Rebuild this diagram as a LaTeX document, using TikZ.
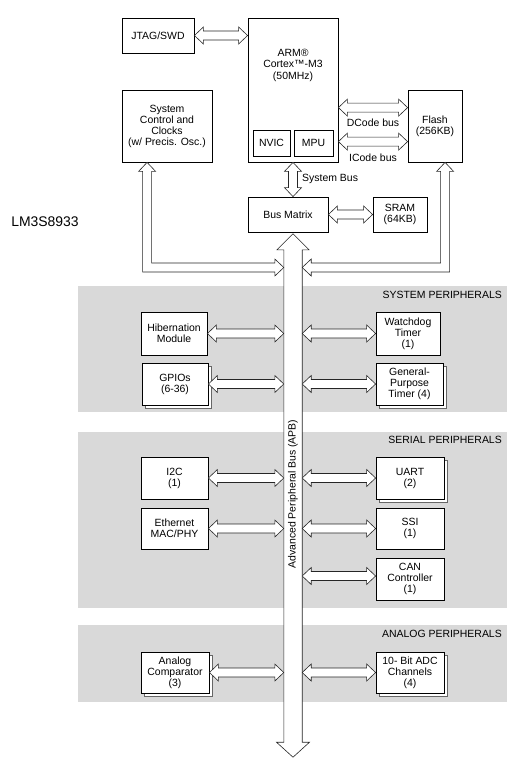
\documentclass[tikz,border=0pt]{standalone}
\usepackage{fontspec}
\setmainfont{Liberation Sans}
\usetikzlibrary{calc}
\newcommand\fs{\fontsize{10.5}{11}\selectfont}
\tikzset{
 box/.style={draw=black, line width=0.8bp, fill=white, align=center, inner sep=0pt, font=\fs},
 shbox/.style={draw=black!60, line width=0.6bp, fill=white},
 barrow/.style={draw=black!85, line width=0.6bp, fill=white, line join=miter},
 band/.style={fill=black!15},
 lbl/.style={font=\fs, inner sep=0pt},
}
\newcommand\mkbox[6]{\node[box, minimum width={(#4-#2)*1bp}, minimum height={(#5-#3)*1bp}] (#1) at ({(#2+#4)/2},{(#3+#5)/2}) {#6};}
\newcommand\mkshbox[6]{\draw[shbox] (#2+3,#3+3) rectangle (#4+3,#5+3); \mkbox{#1}{#2}{#3}{#4}{#5}{#6}}
% horizontal double arrow from #1 (left) to x of #2 (right), at y of #1
\newcommand\dblH[2]{\draw[barrow] let \p1=(#1), \p2=(#2) in
 (\x1,\y1) -- (\x1+9bp,\y1+8.5bp) -- (\x1+9bp,\y1+4.5bp) -- (\x2-9bp,\y1+4.5bp) -- (\x2-9bp,\y1+8.5bp) -- (\x2,\y1)
 -- (\x2-9bp,\y1-8.5bp) -- (\x2-9bp,\y1-4.5bp) -- (\x1+9bp,\y1-4.5bp) -- (\x1+9bp,\y1-8.5bp) -- cycle;}
% vertical double arrow from #1 (top) to y of #2 (bottom), at x of #1
\newcommand\dblV[2]{\draw[barrow] let \p1=(#1), \p2=(#2) in
 (\x1,\y1) -- (\x1+8.5bp,\y1-9bp) -- (\x1+4.5bp,\y1-9bp) -- (\x1+4.5bp,\y2+9bp) -- (\x1+8.5bp,\y2+9bp) -- (\x1,\y2)
 -- (\x1-8.5bp,\y2+9bp) -- (\x1-4.5bp,\y2+9bp) -- (\x1-4.5bp,\y1-9bp) -- (\x1-8.5bp,\y1-9bp) -- cycle;}
\begin{document}
\begin{tikzpicture}[x=1bp,y=-1bp]
\useasboundingbox (0,0) rectangle (519,764);
% bands
\fill[band] (78,286) rectangle (507,412);
\fill[band] (78,432) rectangle (507,608);
\fill[band] (78,625) rectangle (507,702);
\node[lbl, anchor=east] (sysper) at (502,295) {SYSTEM PERIPHERALS};
\node[lbl, anchor=east] (serper) at (502,440) {SERIAL PERIPHERALS};
\node[lbl, anchor=east] (anaper) at (502,634) {ANALOG PERIPHERALS};
% APB bus
\node[inner sep=0pt, minimum width=18bp, minimum height=492bp] (apb) at (293,496) {};
\draw[barrow] let \p1=(apb.north), \p2=(apb.south) in
 (\x1,\y1+16bp) -- (\x1+16bp,\y1) -- (apb.north east) -- (apb.south east) -- (\x2+16.5bp,\y2)
 -- (\x2,\y2-15bp) -- (\x2-16.5bp,\y2) -- (apb.south west) -- (apb.north west) -- (\x1-16bp,\y1) -- cycle;
\node[lbl, rotate=90] (apblbl) at (293,494) {Advanced Peripheral Bus (APB)};
% top boxes
\mkbox{jtag}{122}{18}{194}{53}{JTAG/SWD}
\mkbox{arm}{248}{18}{338}{162}{}
\node[lbl, align=center, font=\fontsize{10.5}{11.5}\selectfont] (armlbl) at (293,65) {ARM®\\Cortex™-M3\\(50MHz)};
\mkbox{nvic}{253}{130}{290}{156}{NVIC}
\mkbox{mpu}{294}{130}{333}{156}{MPU}
\mkbox{sysctl}{122}{90}{212}{162}{System\\Control and\\Clocks\\(w/ Precis. Osc.)}
\mkbox{flash}{408}{90}{462}{162}{Flash\\(256KB)}
\mkbox{busmatrix}{248}{197}{328}{232}{Bus Matrix}
\mkbox{sram}{373}{197}{427}{232}{SRAM\\(64KB)}
\node[font=\fontsize{14}{16}\selectfont, inner sep=0pt] (chip) at (45,222) {LM3S8933};
% peripherals
\mkbox{hib}{141}{312}{207}{355}{Hibernation\\Module}
\mkbox{wdt}{376}{312}{440}{355}{Watchdog\\Timer\\(1)}
\mkshbox{gpio}{142}{363}{208}{405}{GPIOs\\(6-36)}
\mkshbox{gpt}{376}{363}{443}{405}{General-\\Purpose\\Timer (4)}
\mkbox{i2c}{141}{457}{208}{499}{I2C\\(1)}
\mkshbox{uart}{376}{457}{444}{499}{UART\\(2)}
\mkbox{eth}{141}{508}{208}{549}{Ethernet\\MAC/PHY}
\mkbox{ssi}{376}{508}{444}{549}{SSI\\(1)}
\mkbox{can}{376}{558}{444}{600}{CAN\\Controller\\(1)}
\mkshbox{acomp}{141}{652}{209}{693}{Analog\\Comparator\\(3)}
\mkshbox{adc}{376}{652}{444}{693}{10- Bit ADC\\Channels\\(4)}
% arrows
\dblH{jtag.east}{arm.west}
\coordinate (dcl) at ($(arm.north east)+(0,90)$);
\coordinate (icl) at ($(arm.north east)+(0,124)$);
\dblH{dcl}{flash.west}
\dblH{icl}{flash.west}
\node[lbl] (dcode) at (373,123) {DCode bus};
\node[lbl] (icode) at (373,158) {ICode bus};
\dblV{arm.south}{busmatrix.north}
\node[lbl, anchor=west] (sysbus) at (302,179) {System Bus};
\dblH{busmatrix.east}{sram.west}
% L-shaped arrows
\draw[barrow] let \p1=($(sysctl.south west)+(25.5,0)$), \p2=(apb.west), \p3=(0,267.5) in
 (\x1,\y1) -- (\x1+8.5bp,\y1-9bp) -- (\x1+4.5bp,\y1-9bp) -- (\x1+4.5bp,\y3+4.5bp) -- (\x2-9bp,\y3+4.5bp) -- (\x2-9bp,\y3+8.5bp)
 -- (\x2,\y3) -- (\x2-9bp,\y3-8.5bp) -- (\x2-9bp,\y3-4.5bp) -- (\x1-4.5bp,\y3-4.5bp) -- (\x1-4.5bp,\y1-9bp) -- (\x1-8.5bp,\y1-9bp) -- cycle;
\draw[barrow] let \p1=($(flash.south west)+(37.5,0)$), \p2=(apb.east), \p3=(0,267.5) in
 (\x1,\y1) -- (\x1+8.5bp,\y1-9bp) -- (\x1+4.5bp,\y1-9bp) -- (\x1+4.5bp,\y3-4.5bp) -- (\x2+9bp,\y3-4.5bp) -- (\x2+9bp,\y3-8.5bp)
 -- (\x2,\y3) -- (\x2+9bp,\y3+8.5bp) -- (\x2+9bp,\y3+4.5bp) -- (\x1-4.5bp,\y3+4.5bp) -- (\x1-4.5bp,\y1-9bp) -- (\x1-8.5bp,\y1-9bp) -- cycle;
% peripheral arrows
\dblH{hib.east}{apb.west}
\dblH{apb.east |- wdt.west}{wdt.west}
\dblH{gpio.east}{apb.west}
\dblH{apb.east |- gpt.west}{gpt.west}
\dblH{i2c.east}{apb.west}
\dblH{apb.east |- uart.west}{uart.west}
\dblH{eth.east}{apb.west}
\dblH{apb.east |- ssi.west}{ssi.west}
\coordinate (canr) at ($(can.west)+(0,-3)$);
\dblH{apb.east |- canr}{canr}
\dblH{acomp.east}{apb.west}
\dblH{apb.east |- adc.west}{adc.west}
\end{tikzpicture}
\end{document}
